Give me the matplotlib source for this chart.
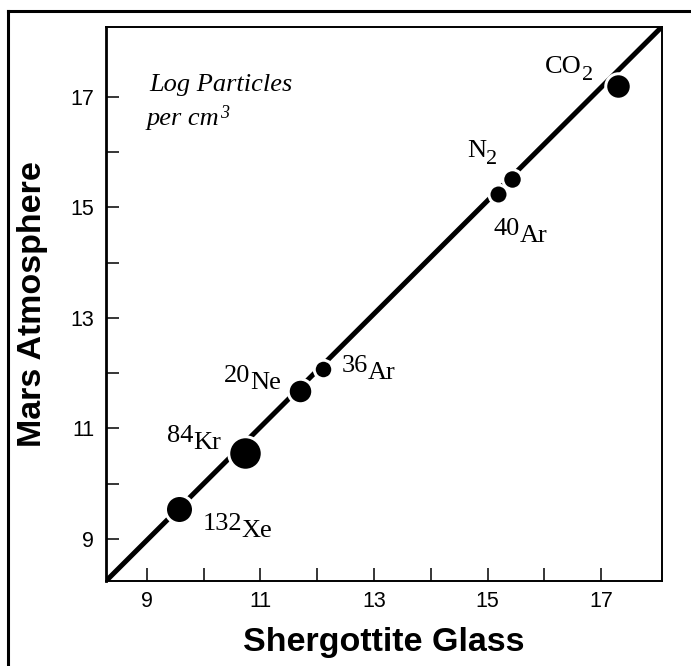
import matplotlib.pyplot as plt
from matplotlib.lines import Line2D

# log particles per cm^3
species_head = ['CO', 'N', '40', '36', '20', '84', '132']
species_tail = ['2', '2', 'Ar', 'Ar', 'Ne', 'Kr', 'Xe']
glass = [17.30, 15.43, 15.19, 12.10, 11.70, 10.73, 9.57]
atmos = [17.19, 15.52, 15.24, 12.07, 11.68, 10.55, 9.54]

# 1:1 line, runs corner to corner of the plot box
line_x = [8.28, 18.07]
line_y = [8.24, 18.27]

major_ticks = [9, 11, 13, 15, 17]
minor_ticks = [10, 12, 14, 16]

PT = 0.72  # points per pixel at dpi 100

# dot diameters and label offsets, in pixels
dot_px = [22.5, 16.5, 16, 15.5, 21.5, 30.5, 25]
lab_dx = [-73, -45, -5, 19, -76, -78, 23]
lab_dy = [13, 22, -41, -3, 9, 11, -21]
tail_small = [True, True, False, False, False, False, False]

serif = 'Liberation Serif'
sans = 'Liberation Sans'

fig = plt.figure(figsize=(6.91, 6.66), dpi=100)
ax = fig.add_axes([0.1534, 0.1276, 0.8046, 0.8323])

ax.plot(line_x, line_y, color='black', lw=3.6, solid_capstyle='butt', zorder=2)

for i in range(len(glass)):
    ax.plot(glass[i], atmos[i], 'o', ms=(dot_px[i] + 3) * PT, mfc='black',
            mec='white', mew=3 * PT, zorder=3)
    t1 = ax.annotate(species_head[i], (glass[i], atmos[i]),
                     xytext=(lab_dx[i] * PT, lab_dy[i] * PT), textcoords='offset points',
                     fontsize=19, family=serif, va='baseline', ha='left')
    ax.annotate(species_tail[i], (1, 0), xycoords=t1,
                xytext=(0, -7 * PT), textcoords='offset points',
                fontsize=16 if tail_small[i] else 19, family=serif,
                va='bottom', ha='left')

ax.text(0.0773, 0.884, 'Log Particles', transform=ax.transAxes, fontsize=19,
        style='italic', family=serif, va='baseline')
t = ax.text(0.0737, 0.8227, 'per cm', transform=ax.transAxes, fontsize=19,
            style='italic', family=serif, va='baseline')
ax.annotate('3', (1, 0), xycoords=t, xytext=(0.5, 8 * PT), textcoords='offset points',
            fontsize=13, style='italic', family=serif, va='bottom')

ax.set_xlim(line_x)
ax.set_ylim(line_y)
ax.set_xticks(major_ticks)
ax.set_yticks(major_ticks)
ax.set_xticks(minor_ticks, minor=True)
ax.set_yticks(minor_ticks, minor=True)
ax.tick_params(which='both', direction='in', length=9.4, width=1.1,
               top=False, right=False, labelsize=15.5)
ax.tick_params(axis='x', pad=7)
ax.tick_params(axis='y', pad=8.6)
for lab in ax.get_xticklabels() + ax.get_yticklabels():
    lab.set_family(sans)

for side in ['top', 'right', 'bottom']:
    ax.spines[side].set_linewidth(1.4)
ax.spines['left'].set_linewidth(2.0)

ax.set_xlabel('Shergottite Glass', fontsize=24.5, fontweight='bold', family=sans, labelpad=11)
ax.set_ylabel('Mars Atmosphere', fontsize=24.5, fontweight='bold', family=sans, labelpad=16)

# border of the scanned figure (left and top edges only)
fig.add_artist(Line2D([0.0116, 0.0116], [0, 0.9835], transform=fig.transFigure,
                      color='black', lw=2.2, solid_capstyle='projecting'))
fig.add_artist(Line2D([0.0116, 1], [0.9835, 0.9835], transform=fig.transFigure,
                      color='black', lw=2.2, solid_capstyle='projecting'))

plt.savefig('out.png', dpi=100)
